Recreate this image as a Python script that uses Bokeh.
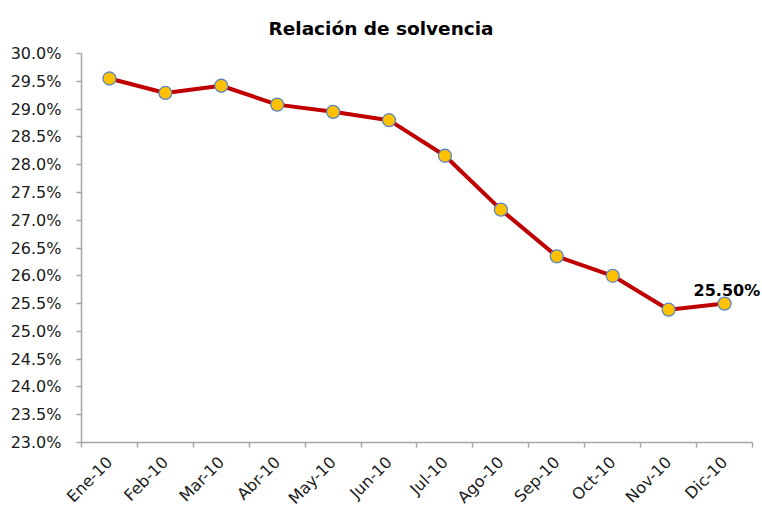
import math
from bokeh.plotting import figure
from bokeh.models import (ColumnDataSource, FixedTicker, PrintfTickFormatter, Range1d,
                          Label, Title)
from bokeh.embed import file_html
from bokeh.resources import INLINE

months = ["Ene-10", "Feb-10", "Mar-10", "Abr-10", "May-10", "Jun-10",
          "Jul-10", "Ago-10", "Sep-10", "Oct-10", "Nov-10", "Dic-10"]
solvencia = [29.55, 29.29, 29.42, 29.08, 28.95, 28.80,
             28.16, 27.19, 26.35, 26.00, 25.39, 25.50]
y_ticks = [23.0, 23.5, 24.0, 24.5, 25.0, 25.5, 26.0, 26.5, 27.0, 27.5,
           28.0, 28.5, 29.0, 29.5, 30.0]
last_label = "25.50%"
title_text = "Relación de solvencia"

xs = list(range(len(months)))
src = ColumnDataSource(data=dict(x=xs, y=solvencia))

FONT = "DejaVu Sans"

n = len(months)
# frame extends 10px past the last category so the end label is not clipped
x_pad = 10 / 55.9
p = figure(width=762, height=517, output_backend="svg", toolbar_location=None,
           x_range=Range1d(-0.5, n - 0.5 + x_pad),
           y_range=Range1d(y_ticks[0], y_ticks[-1]),
           min_border_left=81, min_border_right=0, min_border_top=52,
           min_border_bottom=74)
p.outline_line_color = None
p.xgrid.grid_line_color = None
p.ygrid.grid_line_color = None
p.background_fill_color = "white"
p.border_fill_color = "white"

t = Title(text=title_text, align="left", offset=187, standoff=30,
          text_line_height=0.6, text_font=FONT,
          text_font_size="18.5px", text_font_style="bold", text_color="black")
p.add_layout(t, "above")

p.line("x", "y", source=src, line_color="#C00000", line_width=4)
p.scatter("x", "y", source=src, size=13, fill_color="#FFC000",
          line_color="#5B86BF", line_width=1.3)

lab = Label(x=xs[-1], y=solvencia[-1], text=last_label, x_offset=-31, y_offset=13,
            text_font=FONT, text_font_size="16px", text_font_style="bold",
            text_color="black", text_baseline="alphabetic", text_align="left")
p.add_layout(lab)

# y axis
ya = p.yaxis[0]
ya.ticker = FixedTicker(ticks=y_ticks)
ya.formatter = PrintfTickFormatter(format="%.1f%%")
ya.axis_line_color = "#a6a6a6"
ya.axis_line_width = 1.5
ya.major_tick_line_color = "#a6a6a6"
ya.major_tick_line_width = 1.5
ya.major_tick_out = 5
ya.major_tick_in = 0
ya.minor_tick_line_color = None
ya.major_label_text_font = FONT
ya.major_label_text_font_size = "16px"
ya.major_label_text_color = "#1a1a1a"
ya.major_label_standoff = 15

# x axis: labels at category centres, tick marks at category boundaries
xa = p.xaxis[0]
boundaries = [i - 0.5 for i in range(n + 1)]
xa.bounds = (-0.5, n - 0.5)
xa.ticker = FixedTicker(ticks=xs, minor_ticks=boundaries)
xa.major_label_overrides = {i: m for i, m in zip(xs, months)}
xa.axis_line_color = "#a6a6a6"
xa.axis_line_width = 1.5
xa.major_tick_line_color = None
xa.minor_tick_line_color = "#a6a6a6"
xa.minor_tick_line_width = 1.5
xa.minor_tick_out = 5
xa.minor_tick_in = 0
xa.major_label_orientation = math.pi / 4
xa.major_label_text_font = FONT
xa.major_label_text_font_size = "16px"
xa.major_label_text_color = "#1a1a1a"
xa.major_label_standoff = 11

open("out.html", "w").write(file_html(p, INLINE))
